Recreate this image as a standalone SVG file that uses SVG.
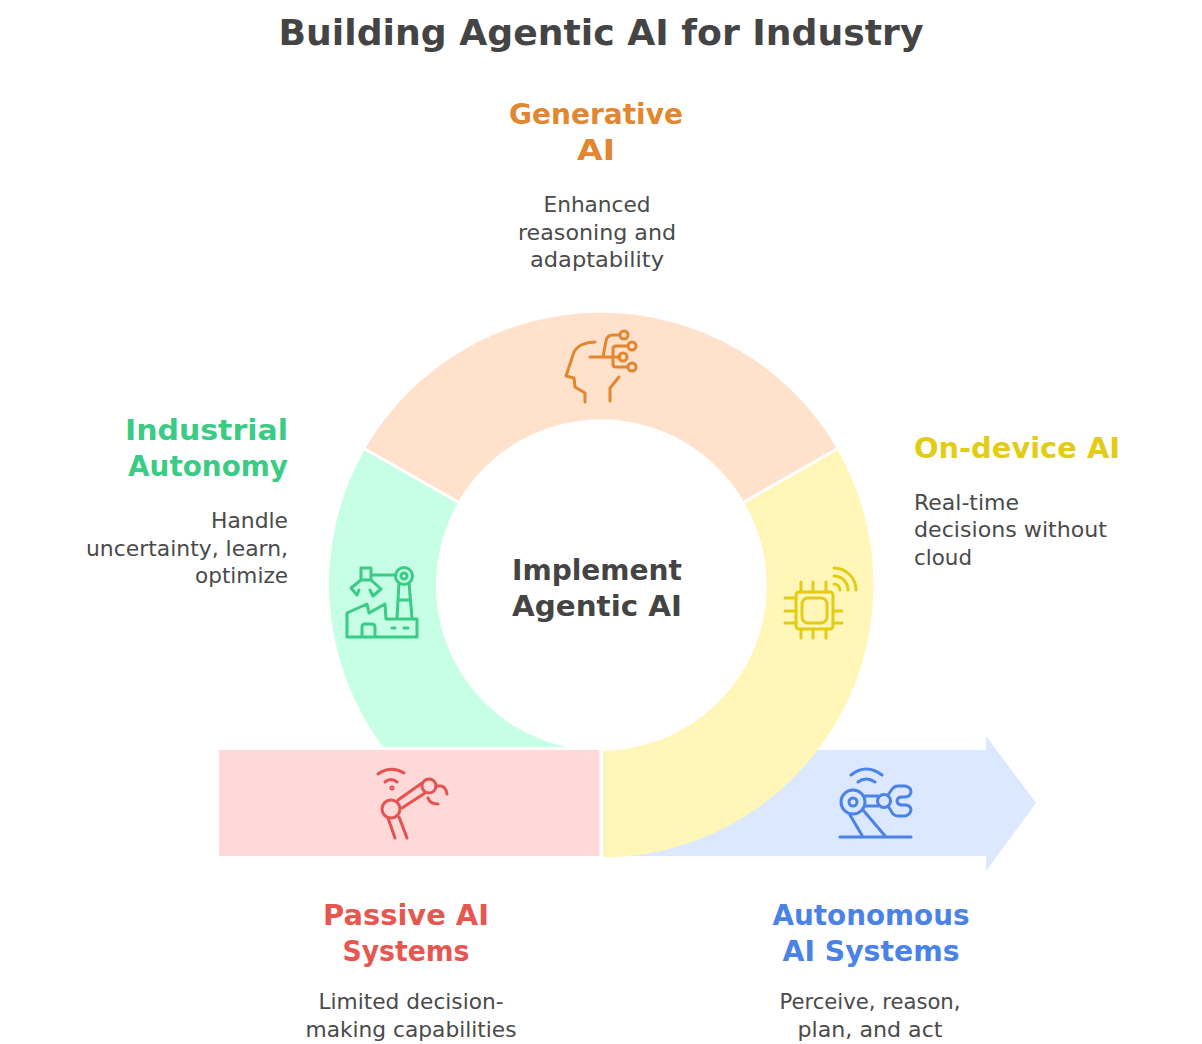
<svg xmlns="http://www.w3.org/2000/svg" width="1202" height="1044" viewBox="0 0 1202 1044">
<style>
text{font-family:"DejaVu Sans","Liberation Sans",sans-serif;}
.t{font-size:36px;font-weight:700;fill:#444;}
.h{font-size:29px;font-weight:700;}
.b{font-size:22px;fill:#4a4a4a;}
.i{fill:none;stroke-width:3;stroke-linecap:round;stroke-linejoin:round;}
.m{text-anchor:middle;}
.e{text-anchor:end;}
</style>
<rect width="1202" height="1044" fill="#fff"/>
<g id="connectors">
<path id="arrow" d="M620 750H986V736L1036 803L986 871V856H620Z" fill="#dbe8ff"/>
<path id="seg-green" d="M365 449A272.500 272.500 0 0 0 383 747H567A165 165 0 0 1 458 503Z" fill="#c6ffe5"/>
<path id="seg-peach" d="M365 449A272.500 272.500 0 0 1 837 449L744 502A165 165 0 0 0 458 502Z" fill="#ffe1cc"/>
<path id="seg-yellow" d="M837 449A272.500 272.500 0 0 1 603 857.500V750.500A165 165 0 0 0 744 502Z" fill="#fff6b8"/>
<path d="M365 449L458 502M837 449L744 502" stroke="#fff" stroke-width="3" fill="none"/>
<rect id="bar" x="219" y="750" width="380.500" height="106" fill="#ffd8d8"/>
</g>
<text class="t m" x="601" y="45" textLength="645" lengthAdjust="spacingAndGlyphs">Building Agentic AI for Industry</text>
<g id="center"><text class="h m" x="597" y="580" fill="#444" textLength="170" lengthAdjust="spacingAndGlyphs">Implement</text><text class="h m" x="597" y="616" fill="#444" textLength="170" lengthAdjust="spacingAndGlyphs">Agentic AI</text></g>
<g id="generative">
<text class="h m" x="596" y="124" fill="#e2862f" textLength="174" lengthAdjust="spacingAndGlyphs">Generative</text><text class="h m" x="596" y="160" fill="#e2862f" textLength="38" lengthAdjust="spacingAndGlyphs">AI</text>
<text class="b m" x="597" y="212" textLength="107" lengthAdjust="spacingAndGlyphs">Enhanced</text><text class="b m" x="597" y="240" textLength="158" lengthAdjust="spacingAndGlyphs">reasoning and</text><text class="b m" x="597" y="267" textLength="134" lengthAdjust="spacingAndGlyphs">adaptability</text>
<g class="i" stroke="#e2862f"><path d="M595 342C585 342 577 346 574 352L566 376L574 378L575 387L585 393V402M610 401V388L619 377M590 357H620M603 357L606 341Q607 335 613 335H620M613 357V349Q613 346 616 346H628M613 357V364Q613 367 616 367H628"/><circle cx="624" cy="335" r="4"/><circle cx="632" cy="346" r="4"/><circle cx="623" cy="357" r="4"/><circle cx="632" cy="367" r="4"/></g>
</g>
<g id="autonomy">
<text class="h e" x="288" y="440" fill="#3acb85" textLength="163" lengthAdjust="spacingAndGlyphs">Industrial</text><text class="h e" x="288" y="476" fill="#3acb85" textLength="160" lengthAdjust="spacingAndGlyphs">Autonomy</text>
<text class="b e" x="288" y="528" textLength="77" lengthAdjust="spacingAndGlyphs">Handle</text><text class="b e" x="288" y="556" textLength="202" lengthAdjust="spacingAndGlyphs">uncertainty, learn,</text><text class="b e" x="288" y="583" textLength="93" lengthAdjust="spacingAndGlyphs">optimize</text>
<g class="i" stroke="#3acb85"><path d="M361 568H371V580H361ZM371 575H396M361 580L351 588L357 595L359 590M371 580L381 589L373 596L370 590M399 583L397 618M409 583L412 618M398 600H410M347 637V613L367 604L369 613L385 604L386 619H417V637ZM362 637V627Q362 624 365 624H372Q375 624 375 627V637M392 628H395M404 628H408"/><circle cx="404" cy="576" r="8.500"/><circle cx="404" cy="576" r="3"/></g>
</g>
<g id="ondevice">
<text class="h" x="914" y="458" fill="#e3cc16" textLength="206" lengthAdjust="spacingAndGlyphs">On-device AI</text>
<text class="b" x="914" y="510" textLength="105" lengthAdjust="spacingAndGlyphs">Real-time</text><text class="b" x="914" y="537" textLength="193" lengthAdjust="spacingAndGlyphs">decisions without</text><text class="b" x="914" y="565" textLength="58" lengthAdjust="spacingAndGlyphs">cloud</text>
<g class="i" stroke="#e3cc16"><rect x="796" y="592" width="37" height="37" rx="3"/><rect x="802" y="598" width="25" height="25" rx="6"/><path d="M801 582V592M813 582V592M826 582V592M801 629V638M813 629V638M826 629V638M785 598H796M785 611H796M785 623H796M833 611H842M833 623H842M834 568A22 22 0 0 1 856 590M834 576A14 14 0 0 1 848 590M834 584A6 6 0 0 1 840 590"/></g>
</g>
<g id="passive">
<text class="h m" x="406" y="925" fill="#e85650" textLength="166" lengthAdjust="spacingAndGlyphs">Passive AI</text><text class="h m" x="406" y="961" fill="#e85650" textLength="127" lengthAdjust="spacingAndGlyphs">Systems</text>
<text class="b m" x="411" y="1009" textLength="185" lengthAdjust="spacingAndGlyphs">Limited decision-</text><text class="b m" x="411" y="1037" textLength="211" lengthAdjust="spacingAndGlyphs">making capabilities</text>
<g class="i" stroke="#e5524f"><circle cx="391" cy="809" r="9"/><circle cx="429" cy="786" r="7"/><path d="M398 800L422 783M402 808L425 793M388 818L395 838M399 817L407 838M436 786H441Q446 787 447 794M428 798Q430 804 438 804M378 774Q391 765 404 773M385 782Q391 777 397 782"/><circle cx="392" cy="788" r="1" /></g>
</g>
<g id="autonomous">
<text class="h m" x="871" y="925" fill="#4a82e8" textLength="197" lengthAdjust="spacingAndGlyphs">Autonomous</text><text class="h m" x="871" y="961" fill="#4a82e8" textLength="177" lengthAdjust="spacingAndGlyphs">AI Systems</text>
<text class="b m" x="870" y="1009" textLength="181" lengthAdjust="spacingAndGlyphs">Perceive, reason,</text><text class="b m" x="870" y="1037" textLength="145" lengthAdjust="spacingAndGlyphs">plan, and act</text>
<g class="i" stroke="#4a82e8"><circle cx="853" cy="802" r="12"/><circle cx="853" cy="802" r="4"/><circle cx="884" cy="801" r="6.500"/><path d="M865 796H878M865 806H878M850 815L863 837M863 810L886 837M840 837H911M851 775Q866 763 882 775M858 782Q866 776 875 782M888 795L893 788Q895 786 898 786H905Q911 787 911 792Q910 797 905 797H901Q897 798 897 801Q897 804 901 805H906Q911 806 911 810Q910 815 905 816H898Q895 816 893 814L888 806"/></g>
</g>
</svg>
